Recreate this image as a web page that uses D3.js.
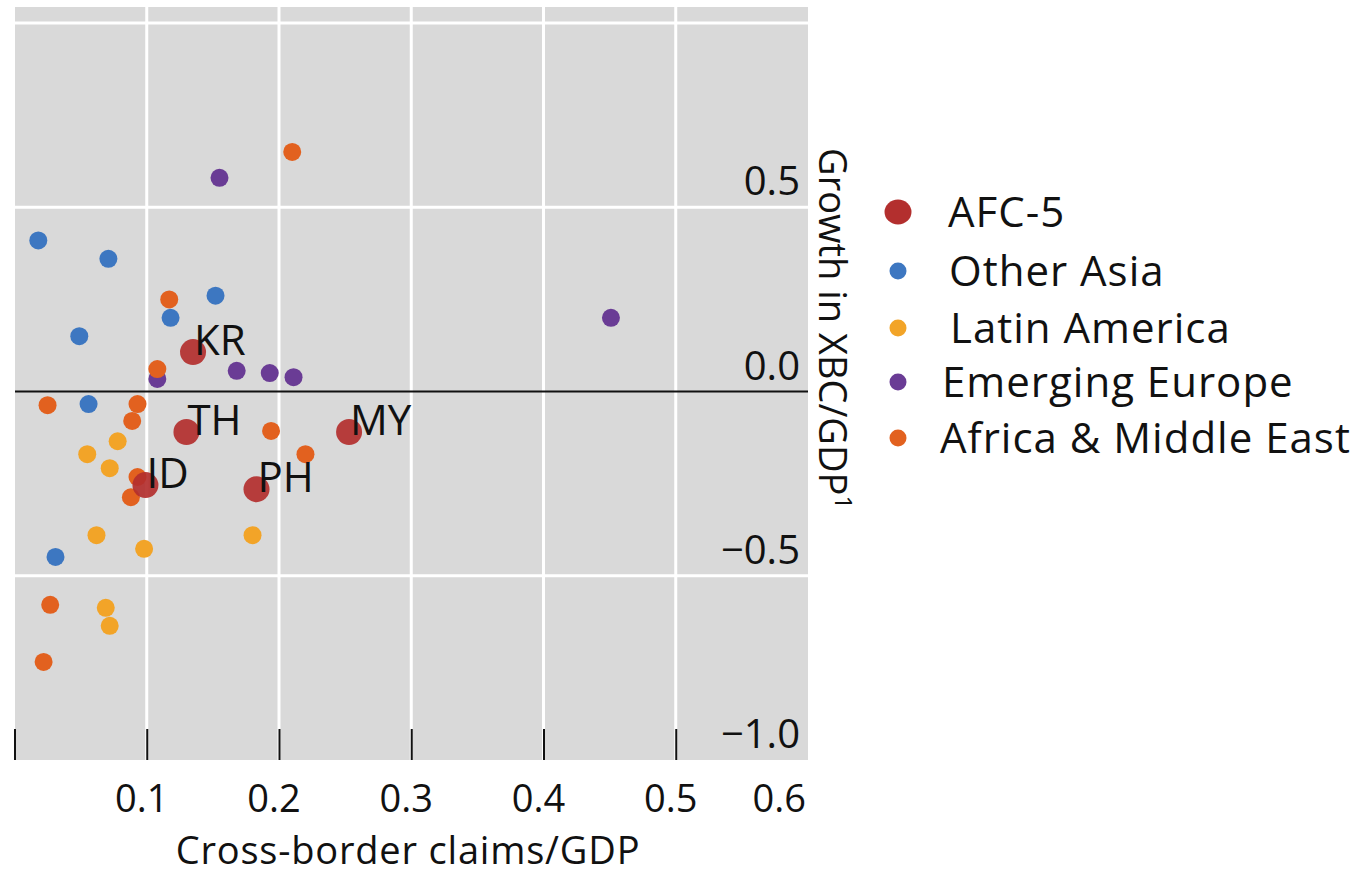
<!DOCTYPE html>
<html>
<head>
<meta charset="utf-8">
<script src="https://cdn.jsdelivr.net/npm/d3@7"></script>
<style>
  body { margin: 0; background: #fff; }
  text { font-family: "Open Sans", "Noto Sans", sans-serif; fill: #111; }
</style>
</head>
<body>
<div id="chart"></div>
<script>
const width = 1367;
const height = 875;

// groups, in legend order
const groups = ["AFC-5", "Other Asia", "Latin America", "Emerging Europe", "Africa & Middle East"];
const groupColors = ["#b32f2e", "#3d77c1", "#f2a428", "#6a3c95", "#e2611f"];

// AFC-5 economies (x = cross-border claims/GDP, y = growth in XBC/GDP)
const afcNames = ["KR", "TH", "MY", "ID", "PH"];
const afcX = [0.135, 0.130, 0.253, 0.099, 0.183];
const afcY = [0.107, -0.11, -0.11, -0.254, -0.265];

const otherAsiaX = [0.018, 0.071, 0.152, 0.118, 0.049, 0.056, 0.031];
const otherAsiaY = [0.41, 0.36, 0.26, 0.20, 0.15, -0.034, -0.449];

const latamX = [0.078, 0.055, 0.072, 0.062, 0.180, 0.098, 0.069, 0.072];
const latamY = [-0.135, -0.17, -0.208, -0.39, -0.39, -0.427, -0.587, -0.636];

const europeX = [0.155, 0.108, 0.168, 0.193, 0.211, 0.451];
const europeY = [0.58, 0.034, 0.056, 0.05, 0.039, 0.20];

const africaX = [0.210, 0.117, 0.108, 0.025, 0.093, 0.089, 0.194, 0.220, 0.093, 0.088, 0.027, 0.022];
const africaY = [0.65, 0.25, 0.061, -0.037, -0.034, -0.08, -0.107, -0.17, -0.232, -0.287, -0.579, -0.734];

const xTicks = [0.1, 0.2, 0.3, 0.4, 0.5, 0.6];
const xTickMarks = [0, 0.1, 0.2, 0.3, 0.4, 0.5];
const yTicks = [0.5, 0.0, -0.5, -1.0];
const yGrid = [1.0, 0.5, -0.5];

const svg = d3.select("#chart").append("svg")
    .attr("width", width)
    .attr("height", height);

const plotLeft = 15, plotRight = 808, plotTop = 7, plotBottom = 760;

const x = d3.scaleLinear().domain([0, 0.6]).range([14.5, plotRight]);
const y = d3.scaleLinear().domain([-1, 1]).range([plotBottom, 23]);
const color = d3.scaleOrdinal(groups, groupColors);

// background
svg.append("rect")
    .attr("x", plotLeft).attr("y", plotTop)
    .attr("width", plotRight - plotLeft).attr("height", plotBottom - plotTop)
    .attr("fill", "#d9d9d9");

// gridlines
svg.append("g").selectAll("line")
    .data(xTicks.slice(0, 5))
    .join("line")
    .attr("x1", d => x(d)).attr("x2", d => x(d))
    .attr("y1", plotTop).attr("y2", plotBottom)
    .attr("stroke", "#fff").attr("stroke-width", 3);

svg.append("g").selectAll("line")
    .data(yGrid)
    .join("line")
    .attr("x1", plotLeft).attr("x2", plotRight)
    .attr("y1", d => y(d)).attr("y2", d => y(d))
    .attr("stroke", "#fff").attr("stroke-width", 3);

// zero line
svg.append("line")
    .attr("x1", plotLeft).attr("x2", plotRight)
    .attr("y1", y(0)).attr("y2", y(0))
    .attr("stroke", "#111").attr("stroke-width", 2);

// x tick marks inside plot
svg.append("g").selectAll("line")
    .data(xTickMarks)
    .join("line")
    .attr("x1", d => x(d) + 0.5).attr("x2", d => x(d) + 0.5)
    .attr("y1", plotBottom - 31).attr("y2", plotBottom)
    .attr("stroke", "#111").attr("stroke-width", 2);

// x tick labels
svg.append("g").selectAll("text")
    .data(xTicks)
    .join("text")
    .attr("x", d => d === 0.6 ? x(d) - 2 : x(d) - 5)
    .attr("y", 812)
    .attr("text-anchor", d => d === 0.6 ? "end" : "middle")
    .attr("font-size", 38)
    .text(d => d3.format(".1f")(d));

svg.append("text")
    .attr("x", 408).attr("y", 864)
    .attr("text-anchor", "middle")
    .attr("font-size", 38)
    .attr("letter-spacing", 0.8)
    .text("Cross-border claims/GDP");

// y tick labels (inside plot, right aligned)
svg.append("g").selectAll("text")
    .data(yTicks)
    .join("text")
    .attr("x", 800)
    .attr("y", d => y(d) - 12)
    .attr("text-anchor", "end")
    .attr("font-size", 40)
    .text(d => d3.format(".1f")(d).replace("-", "\u2212"));

// y axis title, rotated clockwise on the right
const yTitle = svg.append("text")
    .attr("transform", "translate(819,148) rotate(90)")
    .attr("font-size", 38);
yTitle.append("tspan").text("Growth in XBC/GDP");
yTitle.append("tspan").attr("font-size", 24).attr("dy", -16).text("1");

// points
const points = [
    ...otherAsiaX.map((v, i) => ({ g: "Other Asia", x: v, y: otherAsiaY[i] })),
    ...latamX.map((v, i) => ({ g: "Latin America", x: v, y: latamY[i] })),
    ...europeX.map((v, i) => ({ g: "Emerging Europe", x: v, y: europeY[i] })),
    ...africaX.map((v, i) => ({ g: "Africa & Middle East", x: v, y: africaY[i] }))
];
const afc = afcX.map((v, i) => ({ g: "AFC-5", name: afcNames[i], x: v, y: afcY[i] }));

svg.append("g").selectAll("circle")
    .data(points)
    .join("circle")
    .attr("cx", d => x(d.x))
    .attr("cy", d => y(d.y))
    .attr("r", 9)
    .attr("fill", d => color(d.g));

svg.append("g").selectAll("circle")
    .data(afc)
    .join("circle")
    .attr("cx", d => x(d.x))
    .attr("cy", d => y(d.y))
    .attr("r", 13)
    .attr("fill", color("AFC-5"))
    .attr("fill-opacity", 0.92);

svg.append("g").selectAll("text")
    .data(afc)
    .join("text")
    .attr("x", d => x(d.x) + 1)
    .attr("y", d => y(d.y) + 3)
    .attr("font-size", 42)
    .text(d => d.name);

// legend
const legendY = [212, 271, 328, 382, 438];
const legend = svg.append("g").selectAll("g")
    .data(groups)
    .join("g")
    .attr("transform", (d, i) => `translate(898,${legendY[i]})`);

legend.append("ellipse")
    .attr("rx", (d, i) => i === 0 ? 13.5 : 8.5)
    .attr("ry", (d, i) => i === 0 ? 12.5 : 8.5)
    .attr("fill", d => color(d));

legend.append("text")
    .attr("x", (d, i) => [50, 51, 52, 44, 42][i])
    .attr("dy", "0.36em")
    .attr("font-size", 42)
    .attr("letter-spacing", 1)
    .text(d => d);
</script>
</body>
</html>
